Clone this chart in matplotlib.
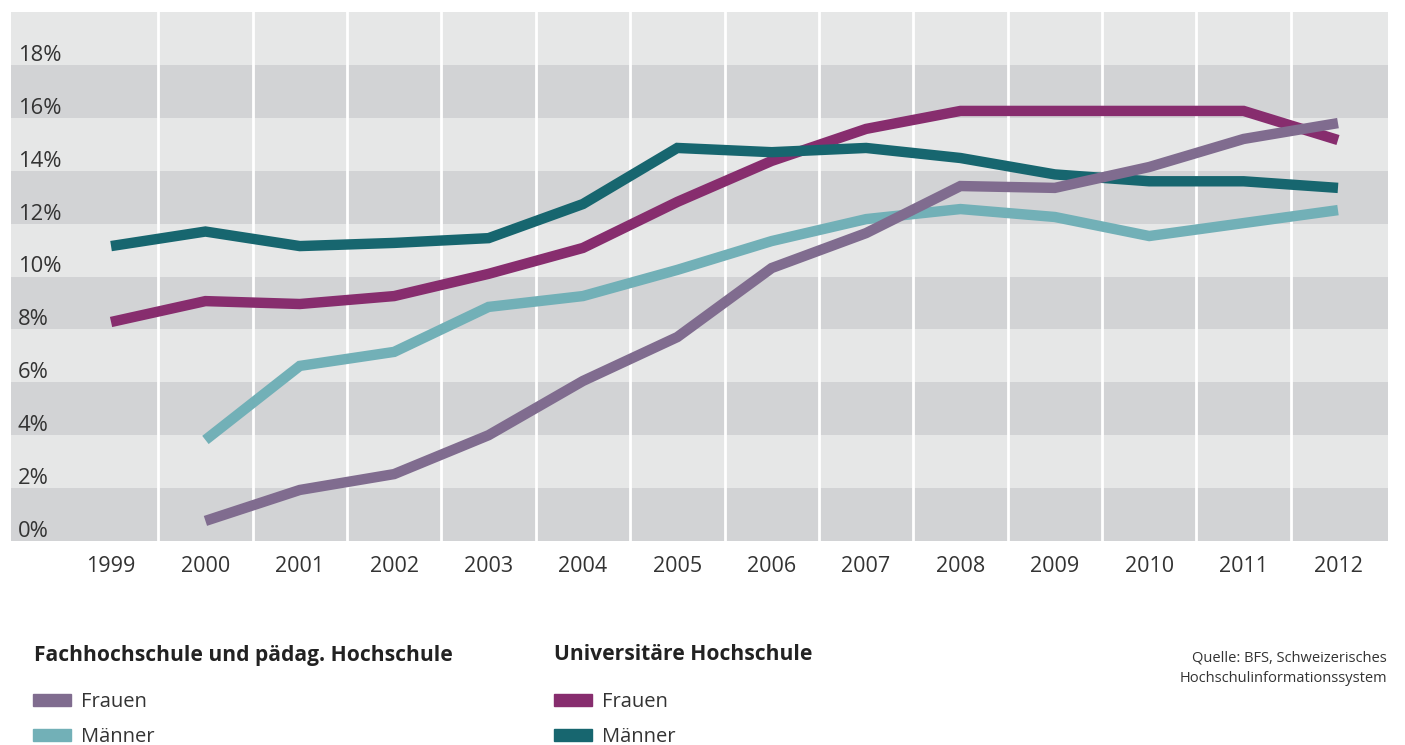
import matplotlib
matplotlib.use("Agg")
import matplotlib.pyplot as plt
import matplotlib.transforms as mtransforms
from matplotlib.patches import Rectangle

years = [1999, 2000, 2001, 2002, 2003, 2004, 2005, 2006, 2007, 2008, 2009, 2010, 2011, 2012]
fh_years = years[1:]

fh_frauen = [0.76, 1.93, 2.53, 4.0, 6.05, 7.71, 10.32, 11.64, 13.42, 13.35, 14.14, 15.2, 15.8]
fh_maenner = [3.82, 6.62, 7.15, 8.85, 9.26, 10.25, 11.34, 12.17, 12.55, 12.25, 11.53, 12.02, 12.51]
uni_frauen = [8.28, 9.07, 8.96, 9.26, 10.1, 11.08, 12.82, 14.37, 15.58, 16.26, 16.26, 16.26, 16.26, 15.16]
uni_maenner = [11.15, 11.7, 11.15, 11.27, 11.45, 12.74, 14.86, 14.7, 14.86, 14.48, 13.86, 13.6, 13.6, 13.35]

ytick_vals = [0, 2, 4, 6, 8, 10, 12, 14, 16, 18]
ytick_labels = [f"{v}%" for v in ytick_vals]

c_fh_f = "#806c8f"
c_fh_m = "#72b0b7"
c_uni_f = "#872d6e"
c_uni_m = "#17666f"
band_light = "#e6e7e7"
band_dark = "#d2d3d5"
text_col = "#333333"

plt.rcParams['font.family'] = ['Open Sans', 'DejaVu Sans']

W, H = 1405, 745
fig = plt.figure(figsize=(W / 100, H / 100), dpi=100)
left, right, top, bottom = 11, 1388, 12, 541
ax = fig.add_axes([left / W, 1 - bottom / H, (right - left) / W, (bottom - top) / H])
ax.set_xlim(1997.94, 2012.53)
ax.set_ylim(0, 20)

for i, lo in enumerate(range(0, 20, 2)):
    ax.axhspan(lo, lo + 2, color=band_dark if i % 2 == 0 else band_light, lw=0, zorder=0)
for y in years[:-1]:
    ax.axvline(y + 0.5, color="white", lw=2, zorder=1)

lw = 7.5
kw = dict(solid_capstyle="butt", solid_joinstyle="miter", zorder=3)
ax.plot(years, uni_frauen, color=c_uni_f, lw=lw, **kw)
ax.plot(years, uni_maenner, color=c_uni_m, lw=lw, **kw)
ax.plot(fh_years, fh_maenner, color=c_fh_m, lw=lw, **kw)
ax.plot(fh_years, fh_frauen, color=c_fh_f, lw=lw, **kw)

for s in ax.spines.values():
    s.set_visible(False)
ax.set_yticks([])
ax.set_xticks(years)
ax.set_xticklabels([str(y) for y in years], fontsize=15.5, color=text_col)
ax.tick_params(axis="x", length=0, pad=11)

trans = mtransforms.blended_transform_factory(ax.transAxes, ax.transData)
off = mtransforms.ScaledTranslation(7 / 100, 4 / 100, fig.dpi_scale_trans)
for v, lab in zip(ytick_vals, ytick_labels):
    ax.text(0, v, lab, transform=trans + off, ha="left", va="baseline",
            fontsize=15.8, color=text_col, zorder=4)

def fx(px):
    return px / W

def fy(py):
    return 1 - py / H

# legend groups: (title x, patch x, title, items)
groups = [
    (35, 33, "Fachhochschule und pädag. Hochschule", [("Frauen", c_fh_f), ("Männer", c_fh_m)]),
    (555, 554, "Universitäre Hochschule", [("Frauen", c_uni_f), ("Männer", c_uni_m)]),
]
for tx, px, title, items in groups:
    fig.text(fx(tx - 1), fy(655), title, fontsize=15.1, fontweight="bold", color="#222222",
             ha="left", va="center")
    for j, (lab, col) in enumerate(items):
        yc = 700 + j * 35
        fig.patches.append(Rectangle((fx(px), fy(yc + 6)), 38 / W, 12 / H,
                                     transform=fig.transFigure, color=col, figure=fig))
        fig.text(fx(px + 48), fy(yc + 2), lab, fontsize=14.5,
                 color=text_col, ha="left", va="center")

fig.text(fx(1387), fy(658), "Quelle: BFS, Schweizerisches", fontsize=10.5, color=text_col,
         ha="right", va="center")
fig.text(fx(1387), fy(678), "Hochschulinformationssystem", fontsize=10.5, color=text_col,
         ha="right", va="center")

fig.savefig("out.png", dpi=100, facecolor="white")
